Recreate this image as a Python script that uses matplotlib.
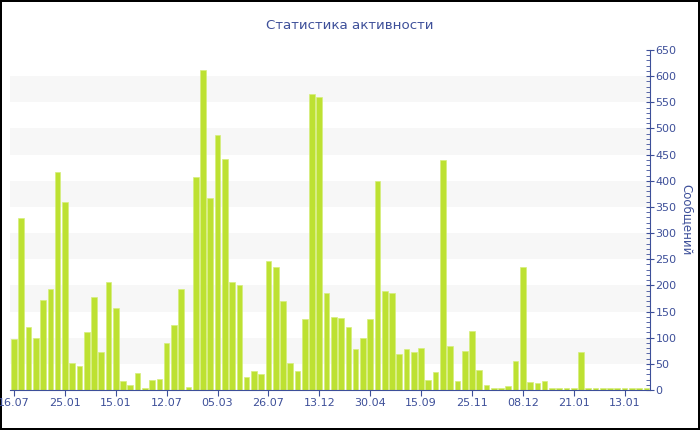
import matplotlib
matplotlib.use("Agg")
from matplotlib import pyplot as plt
from matplotlib.ticker import MultipleLocator

title = "Статистика активности"
ylabel = "Сообщений"

values = [98, 328, 121, 100, 173, 194, 416, 359, 51, 46,
          110, 178, 73, 207, 157, 18, 9, 33, 4, 19,
          22, 90, 125, 193, 6, 408, 611, 368, 487, 442,
          206, 200, 24, 36, 31, 246, 235, 170, 52, 36,
          135, 565, 560, 186, 139, 138, 121, 78, 99, 136,
          400, 189, 186, 69, 78, 73, 80, 19, 35, 439,
          85, 17, 75, 113, 38, 10, 4, 4, 8, 55,
          235, 15, 13, 18, 4, 4, 3, 3, 73, 3,
          3, 3, 4, 4, 3, 3, 3, 4]

tick_labels = ["16.07", "25.01", "15.01", "12.07", "05.03", "26.07", "13.12",
               "30.04", "15.09", "25.11", "08.12", "21.01", "13.01"]
tick_step = 7

blue = "#3d4f99"
bar_color = "#bde132"

fig = plt.figure(figsize=(7, 4.3), dpi=100)
fig.patch.set_edgecolor("black")
fig.patch.set_linewidth(1.5)
ax = fig.add_axes([0.0143, 0.093, 0.9143, 0.7907])

x = list(range(len(values)))
ax.bar(x, values, width=0.78, color=bar_color, edgecolor="#d6ee7c", linewidth=0.5, zorder=2)

# alternating bands
for lo in range(50, 650, 100):
    ax.axhspan(lo, lo + 50, color="#f7f7f7", zorder=0, linewidth=0)

ax.set_xlim(-0.55, 87.5)
ax.set_ylim(0, 650)

ax.yaxis.tick_right()
ax.yaxis.set_label_position("right")
ax.yaxis.set_major_locator(MultipleLocator(50))
ax.yaxis.set_minor_locator(MultipleLocator(10))
ax.tick_params(axis="y", which="major", direction="inout", length=6, color=blue,
               labelcolor=blue, labelsize=8, pad=1)
ax.tick_params(axis="y", which="minor", direction="in", length=3, color=blue)
ax.set_ylabel(ylabel, color=blue, fontsize=8.5, rotation=270, labelpad=12)

ax.set_xticks(range(0, len(values), tick_step)[:len(tick_labels)])
ax.set_xticklabels(tick_labels)
ax.tick_params(axis="x", length=4, color=blue, labelcolor=blue, labelsize=8, pad=2)

for side in ["top", "left"]:
    ax.spines[side].set_visible(False)
ax.spines["right"].set_color(blue)
ax.spines["bottom"].set_color(blue)

fig.text(0.5, 0.94, title, ha="center", va="center", color=blue, fontsize=9.6)

plt.savefig("out.png", dpi=100)
